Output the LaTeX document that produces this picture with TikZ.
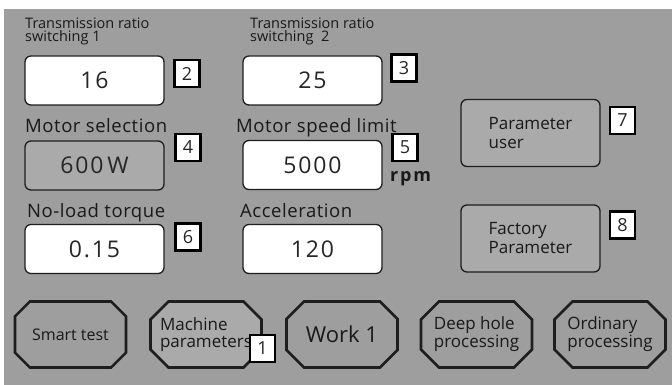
\documentclass[tikz,border=0pt]{standalone}
\usepackage{fontspec}
\setmainfont{Open Sans}
\newfontfamily\capfont[LetterSpace=3]{Open Sans}
\newfontfamily\numfont[LetterSpace=8]{Open Sans}
\newfontfamily\unitfont[LetterSpace=10]{Open Sans}
\usetikzlibrary{shapes.misc}
\definecolor{panel}{RGB}{158,158,158}
\definecolor{btnfill}{RGB}{170,170,170}
\definecolor{edge}{RGB}{30,30,30}
\tikzset{
  caption/.style={anchor=base west, inner sep=0pt, text=black!90, font=\capfont\fontsize{18.5}{18.5}\selectfont},
  smallcap/.style={anchor=base west, inner sep=0pt, align=left, text=black!90, font=\fontsize{14.5}{13.5}\selectfont},
  valbox/.style={draw=edge, line width=1.3pt, rounded corners=6pt, fill=white,
    minimum width=139pt, minimum height=49pt, inner sep=0pt, text=black!85,
    font=\numfont\fontsize{23}{23}\selectfont},
  parbtn/.style={draw=edge, line width=1.3pt, rounded corners=6pt, fill=btnfill,
    minimum width=139pt, minimum height=67pt, inner sep=0pt, align=left, text=black!90,
    font=\fontsize{17}{19}\selectfont},
  tabbtn/.style={chamfered rectangle, chamfered rectangle xsep=9pt, chamfered rectangle ysep=9pt,
    draw=edge, line width=2.6pt, fill=panel, minimum width=111pt, minimum height=66pt,
    inner sep=0pt, align=left, text=black!90},
  tag/.style={draw=black, line width=2.2pt, fill=white, minimum width=25pt, minimum height=27pt,
    inner sep=0pt, text=black!85, font=\fontsize{18}{18}\selectfont},
}
\begin{document}
\begin{tikzpicture}[x=1pt,y=-1pt]
\useasboundingbox (0,0) rectangle (672,385);
\fill[white] (0,0) rectangle (672,385);
\fill[panel] (4,9) rectangle (672,385);

% field captions (two-line captions are placed by their last baseline)
\node[smallcap] (c1) at (25,42) {Transmission ratio\\switching 1};
\node[smallcap] (c2) at (250,42) {Transmission ratio\\switching\ \ 2};
\node[caption] (c3) at (25,133) {Motor selection};
\node[caption] (c4) at (236,133) {Motor speed limit};
\node[caption] (c5) at (27,217) {No-load torque};
\node[caption] (c6) at (240,217) {Acceleration};

% value fields
\node[valbox] (v1) at (94.5,80.5) {16};
\node[valbox] (v2) at (312.5,80.5) {25};
\node[valbox, fill=btnfill] (v3) at (94.5,165.5) {600\,W};
\node[valbox] (v4) at (312.5,165) {5000};
\node[valbox] (v5) at (94.5,249) {0.15};
\node[valbox] (v6) at (312.5,249) {120};
\node[anchor=base west, inner sep=0pt, text=black!90, font=\unitfont\bfseries\fontsize{18}{18}\selectfont] (rpm) at (390,182) {rpm};

% parameter buttons
\node[parbtn] (p1) at (530.5,133) {Parameter\\user};
\node[parbtn] (p2) at (530.5,238.5) {Factory\\Parameter};

% bottom tab buttons
\node[tabbtn, font=\fontsize{16}{16}\selectfont] (b1) at (70.5,334.5) {Smart test};
\node[tabbtn, fill=btnfill, font=\fontsize{17}{17}\selectfont] (b2) at (206,334.5) {Machine\\parameters};
\node[tabbtn, font=\fontsize{22}{22}\selectfont] (b3) at (342,334.5) {Work 1};
\node[tabbtn, font=\fontsize{17}{18}\selectfont] (b4) at (476.5,334.5) {Deep hole\\processing};
\node[tabbtn, font=\fontsize{17}{18}\selectfont] (b5) at (610,334.5) {Ordinary\\processing};

% numbered markers
\node[tag] (t2) at (187,73.5) {2};
\node[tag] (t3) at (404,68) {3};
\node[tag] (t4) at (188,147.5) {4};
\node[tag] (t5) at (405,147.5) {5};
\node[tag] (t7) at (622.5,120.5) {7};
\node[tag] (t6) at (188,237) {6};
\node[tag] (t8) at (622.5,225) {8};
\node[tag] (t1) at (262.5,348.5) {1};
\end{tikzpicture}
\end{document}
